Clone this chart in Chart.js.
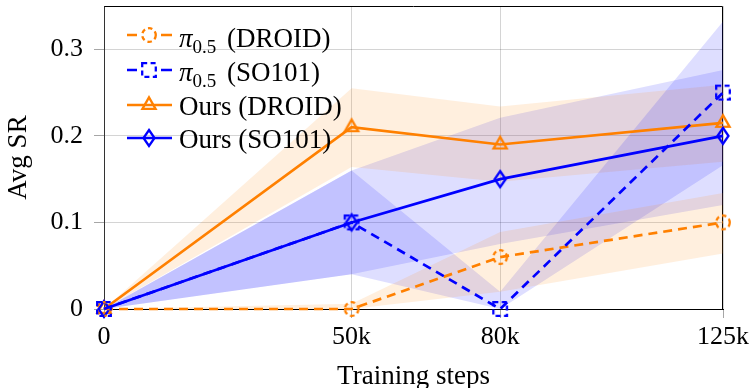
<!DOCTYPE html>
<html>
<head>
<meta charset="utf-8">
<script src="https://cdn.jsdelivr.net/npm/chart.js@4.4.1/dist/chart.umd.min.js"></script>
<style>
  html, body { margin: 0; padding: 0; background: #fff; }
  #wrap { position: relative; width: 752px; height: 388px; overflow: hidden; }
  #c { position: absolute; left: 0; top: 0; }
  .lg-sym { position: absolute; }
  .lg-txt { position: absolute; font-family: "Liberation Serif", serif; font-size: 27px; line-height: 30px; color: #000; white-space: nowrap; }
  .lg-txt .pi { font-style: italic; }
  .lg-txt .sub { font-size: 19px; position: relative; top: 6px; margin-right: 4px; }
</style>
</head>
<body>
<div id="wrap">
  <canvas id="c" width="752" height="388"></canvas>
  <div id="legend"></div>
</div>
<script>
// ---------------- data ----------------
const xValues = [0, 50000, 80000, 125000];
const xTickLabels = ['0', '50k', '80k', '125k'];
const yTickValues = [0, 0.1, 0.2, 0.3];
const yTickLabels = ['0', '0.1', '0.2', '0.3'];

const piDroidMean = [0, 0, 0.06, 0.1];
const piDroidLow  = [0, 0, 0.02, 0.064];
const piDroidHigh = [0, 0.006, 0.089, 0.134];

const piSoMean = [0, 0.1, 0, 0.25];
const piSoLow  = [0, 0.04, 0, 0.166];
const piSoHigh = [0, 0.16, 0.02, 0.332];

const oursDroidMean = [0, 0.21, 0.19, 0.215];
const oursDroidLow  = [0, 0.164, 0.147, 0.17];
const oursDroidHigh = [0, 0.255, 0.234, 0.259];

const oursSoMean = [0, 0.1, 0.15, 0.2];
const oursSoLow  = [0, 0.04, 0.075, 0.12];
const oursSoHigh = [0, 0.16, 0.221, 0.276];

const seriesLabels = ['π0.5 (DROID)', 'π0.5 (SO101)', 'Ours (DROID)', 'Ours (SO101)'];

// ---------------- styles ----------------
const ORANGE = 'rgb(255,128,0)';
const BLUE = 'rgb(0,0,255)';
const ORANGE_FILL = 'rgba(255,128,0,0.13)';
const BLUE_FILL = 'rgba(0,0,255,0.13)';
const FONT = '"Liberation Serif", serif';

function markerCanvas(kind, color) {
  const s = 24, c = document.createElement('canvas');
  c.width = s; c.height = s;
  const g = c.getContext('2d');
  const m = s / 2;
  g.strokeStyle = color;
  g.lineWidth = 2.3;
  g.beginPath();
  if (kind === 'triangle') {
    const r = 7.6;
    g.moveTo(m, m - r);
    g.lineTo(m + r * Math.cos(Math.PI / 6), m + r / 2);
    g.lineTo(m - r * Math.cos(Math.PI / 6), m + r / 2);
    g.closePath();
  } else if (kind === 'diamond') {
    g.moveTo(m, m - 8);
    g.lineTo(m + 5.5, m);
    g.lineTo(m, m + 8);
    g.lineTo(m - 5.5, m);
    g.closePath();
  } else if (kind === 'circle') {
    g.setLineDash([4.5, 3.2]);
    g.arc(m, m, 6.8, 0, Math.PI * 2);
  } else if (kind === 'square') {
    g.setLineDash([5, 3.4]);
    g.rect(m - 6.8, m - 6.8, 13.6, 13.6);
  }
  g.stroke();
  return c;
}

const mk = {
  piDroid: markerCanvas('circle', ORANGE),
  piSo: markerCanvas('square', BLUE),
  oursDroid: markerCanvas('triangle', ORANGE),
  oursSo: markerCanvas('diamond', BLUE)
};

const pts = arr => xValues.map((x, i) => ({ x: x, y: arr[i] }));

function lineDs(label, arr, color, dashed, marker) {
  return {
    label: label,
    data: pts(arr),
    borderColor: color,
    backgroundColor: color,
    borderWidth: 2.7,
    borderDash: dashed ? [9, 6] : [],
    pointStyle: marker,
    pointRadius: 8,
    pointHoverRadius: 8,
    fill: false,
    tension: 0,
    clip: false,
    order: 1
  };
}
function bandLow(arr) {
  return { label: '_low', data: pts(arr), borderWidth: 0, borderColor: 'rgba(0,0,0,0)', pointRadius: 0, fill: false, order: 5 };
}
function bandHigh(arr, col) {
  return { label: '_high', data: pts(arr), borderWidth: 0, borderColor: 'rgba(0,0,0,0)', backgroundColor: col, pointRadius: 0, fill: '-1', order: 5 };
}

const datasets = [
  lineDs(seriesLabels[1], piSoMean, BLUE, true, mk.piSo),
  lineDs(seriesLabels[0], piDroidMean, ORANGE, true, mk.piDroid),
  lineDs(seriesLabels[3], oursSoMean, BLUE, false, mk.oursSo),
  lineDs(seriesLabels[2], oursDroidMean, ORANGE, false, mk.oursDroid),
  bandLow(piDroidLow), bandHigh(piDroidHigh, ORANGE_FILL),
  bandLow(piSoLow), bandHigh(piSoHigh, BLUE_FILL),
  bandLow(oursDroidLow), bandHigh(oursDroidHigh, ORANGE_FILL),
  bandLow(oursSoLow), bandHigh(oursSoHigh, BLUE_FILL)
];

const framePlugin = {
  id: 'frame',
  beforeDatasetsDraw(chart) {
    const a = chart.chartArea, g = chart.ctx;
    g.save();
    g.strokeStyle = '#000';
    g.lineWidth = 1;
    g.beginPath();
    g.moveTo(Math.round(a.left) + 0.5, Math.round(a.top) + 0.5);
    g.lineTo(Math.round(a.right) - 0.5, Math.round(a.top) + 0.5);
    g.lineTo(Math.round(a.right) - 0.5, Math.round(a.bottom));
    g.stroke();
    g.restore();
  }
};

new Chart(document.getElementById('c'), {
  type: 'line',
  data: { datasets: datasets },
  plugins: [framePlugin],
  options: {
    responsive: false,
    animation: false,
    events: [],
    layout: { autoPadding: false, padding: { top: 6, right: 29, left: 0, bottom: 0 } },
    plugins: { legend: { display: false }, tooltip: { enabled: false } },
    scales: {
      x: {
        type: 'linear',
        min: 0, max: 125000,
        afterBuildTicks: s => { s.ticks = xValues.map(v => ({ value: v })); },
        afterFit: s => { s.height = 79; s.paddingLeft = 0; s.paddingRight = 0; },
        ticks: {
          autoSkip: false, maxRotation: 0, minRotation: 0,
          padding: 4,
          color: '#000',
          font: { family: FONT, size: 26 },
          callback: v => xTickLabels[xValues.indexOf(v)]
        },
        grid: { color: 'rgba(0,0,0,0.17)', tickColor: 'rgba(0,0,0,0.35)', tickLength: 9, lineWidth: 1 },
        border: { color: '#000', width: 1 },
        title: { display: true, text: 'Training steps', color: '#000', font: { family: FONT, size: 27, lineHeight: 0.8 }, padding: { top: 0, bottom: 0 } }
      },
      y: {
        min: 0, max: 0.35,
        afterBuildTicks: s => { s.ticks = yTickValues.map(v => ({ value: v })); },
        afterFit: s => { s.width = 104; s.paddingTop = 0; s.paddingBottom = 0; },
        ticks: {
          padding: 11,
          color: '#000',
          font: { family: FONT, size: 26 },
          callback: v => yTickLabels[yTickValues.indexOf(v)]
        },
        grid: { color: 'rgba(0,0,0,0.17)', tickColor: 'rgba(0,0,0,0.35)', tickLength: 10, lineWidth: 1 },
        border: { color: '#333', width: 1 },
        title: { display: true, text: 'Avg SR', color: '#000', font: { family: FONT, size: 27, lineHeight: 1 }, padding: { top: 5, bottom: 0 } }
      }
    }
  }
});

// ---------------- legend ----------------
const legendRows = [
  { name: 'π', sub: '0.5', rest: '(DROID)', marker: mk.piDroid, color: ORANGE, dashed: true },
  { name: 'π', sub: '0.5', rest: '(SO101)', marker: mk.piSo, color: BLUE, dashed: true },
  { name: 'Ours', sub: '', rest: '(DROID)', marker: mk.oursDroid, color: ORANGE, dashed: false },
  { name: 'Ours', sub: '', rest: '(SO101)', marker: mk.oursSo, color: BLUE, dashed: false }
];
const symCenters = [34.5, 70, 104.5, 138];
const baselines = [47, 81, 115, 148];
const lg = document.getElementById('legend');
legendRows.forEach((r, i) => {
  const c = document.createElement('canvas');
  c.width = 50; c.height = 26; c.className = 'lg-sym';
  c.style.left = '126px'; c.style.top = (symCenters[i] - 13) + 'px';
  const g = c.getContext('2d');
  g.strokeStyle = r.color; g.lineWidth = 2.7;
  g.beginPath();
  if (r.dashed) {
    g.moveTo(1, 13); g.lineTo(11, 13);
    g.moveTo(35, 13); g.lineTo(46, 13);
  } else {
    g.moveTo(1, 13); g.lineTo(46, 13);
  }
  g.stroke();
  g.drawImage(r.marker, 23 - 12, 13 - 12);
  lg.appendChild(c);

  const t = document.createElement('div');
  t.className = 'lg-txt';
  t.style.left = '179px';
  t.style.top = (baselines[i] - 24) + 'px';
  if (r.sub) {
    t.innerHTML = '<span class="pi">' + r.name + '</span><span class="sub">' + r.sub + '</span> ' + r.rest;
  } else {
    t.textContent = r.name + ' ' + r.rest;
  }
  lg.appendChild(t);
});
</script>
</body>
</html>
